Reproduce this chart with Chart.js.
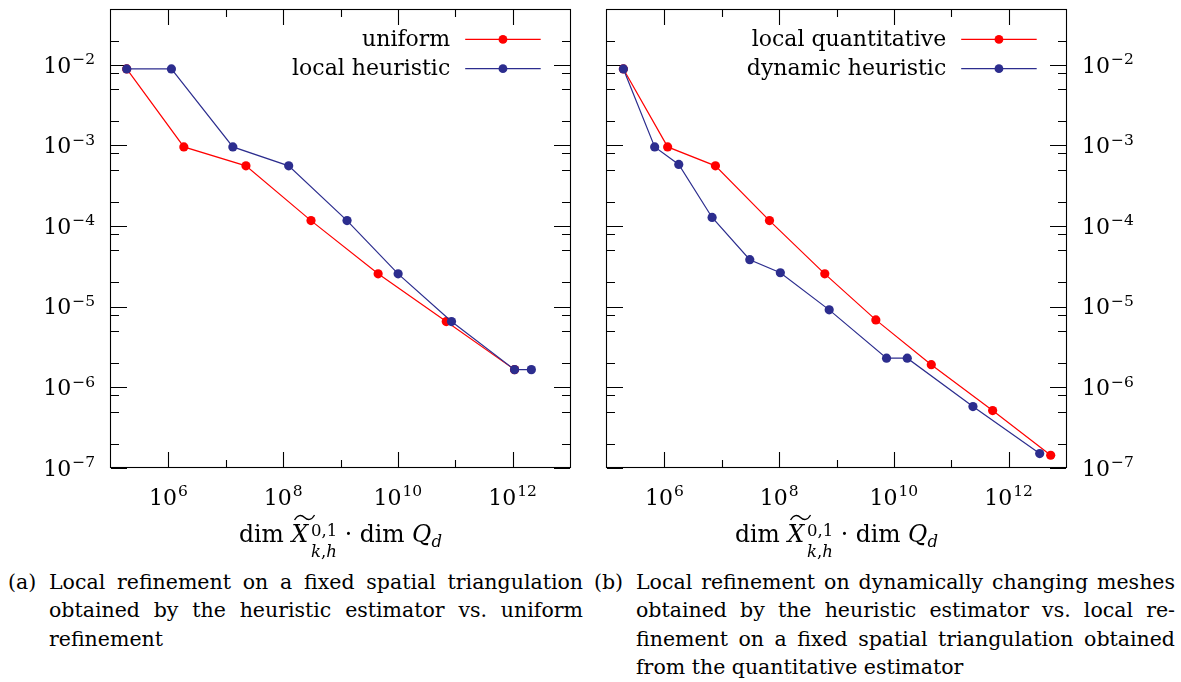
<!DOCTYPE html>
<html>
<head>
<meta charset="utf-8">
<script src="https://cdn.jsdelivr.net/npm/chart.js@4.4.1/dist/chart.umd.min.js"></script>
<style>
    html, body { margin: 0; padding: 0; background: #fff; }
    body {
        width: 1181px; height: 682px; position: relative; overflow: hidden;
        font-family: "DejaVu Serif", "Liberation Serif", serif; color: #000;
    }
    .plot { position: absolute; top: 0; }
    #boxA { left: 0; }
    #boxB { left: 590px; }

    /* titulo del eje x */
    .xt {
        position: absolute; top: 518.5px; font-size: 23.5px; line-height: 30px;
        white-space: nowrap; transform: translateX(-50%);
    }
    .xt i { font-style: italic; }
    .tx { position: relative; font-style: italic; display: inline-block; }
    .tx svg { position: absolute; left: 2px; top: -6px; }
    .stack {
        display: inline-flex; flex-direction: column; font-size: 16.5px;
        line-height: 21px; vertical-align: 6px; margin-left: 3px;
    }
    .sub { font-size: 16.5px; vertical-align: -5px; }

    /* pies de figura */
    .cap { position: absolute; top: 568px; font-size: 20.5px; line-height: 28.3px; }
    #capA { left: 8px; width: 575px; }
    #capB { left: 594px; width: 581px; }
    .cap .lbl { position: absolute; left: 0; top: 0; }
    #capA .lines { margin-left: 41px; }
    #capB .lines { margin-left: 42px; }
    .ln { text-align: justify; text-align-last: justify; }
    .ln.last { text-align-last: left; }
</style>
</head>
<body>

<div class="plot" id="boxA"><canvas id="chartA" width="590" height="520"></canvas></div>
<div class="plot" id="boxB"><canvas id="chartB" width="591" height="520"></canvas></div>

<div class="xt" style="left:340.5px">dim <span class="tx">X<svg width="22" height="9"><path d="M1 7 C4 1.5 8 1.5 11 4.5 S18 7.5 21 2" fill="none" stroke="#000" stroke-width="1.3"/></svg></span><span class="stack"><span>0,1</span><span><i>k</i>,<i>h</i></span></span> · dim <i>Q</i><span class="sub"><i>d</i></span></div>
<div class="xt" style="left:836.5px">dim <span class="tx">X<svg width="22" height="9"><path d="M1 7 C4 1.5 8 1.5 11 4.5 S18 7.5 21 2" fill="none" stroke="#000" stroke-width="1.3"/></svg></span><span class="stack"><span>0,1</span><span><i>k</i>,<i>h</i></span></span> · dim <i>Q</i><span class="sub"><i>d</i></span></div>

<div class="cap" id="capA">
    <span class="lbl">(a)</span>
    <div class="lines">
        <div class="ln">Local refinement on a fixed spatial triangulation</div>
        <div class="ln">obtained by the heuristic estimator vs. uniform</div>
        <div class="ln last">refinement</div>
    </div>
</div>
<div class="cap" id="capB">
    <span class="lbl">(b)</span>
    <div class="lines">
        <div class="ln">Local refinement on dynamically changing meshes</div>
        <div class="ln">obtained by the heuristic estimator vs. local re-</div>
        <div class="ln">finement on a fixed spatial triangulation obtained</div>
        <div class="ln last">from the quantitative estimator</div>
    </div>
</div>

<script>
// ---------------- DATOS ----------------
const X_MIN = 1e5;
const X_MAX = 1e13;
const Y_MIN = 1e-7;
const Y_MAX = 0.0493;

const xMajor = [1e6, 1e8, 1e10, 1e12];
const xMinor = [1e7, 1e9, 1e11];
const yMajor = [1e-7, 1e-6, 1e-5, 1e-4, 1e-3, 1e-2];
const yMinor = [
    2e-7, 5e-7, 8e-7, 2e-6, 5e-6, 8e-6, 2e-5, 5e-5, 8e-5,
    2e-4, 5e-4, 8e-4, 2e-3, 5e-3, 8e-3, 2e-2,
];

// (a) uniform vs local heuristic
const uniformX = [1.88e5, 1.86e6, 2.25e7, 3.06e8, 4.53e9, 6.97e10, 1.08e12];
const uniformY = [8.9e-3, 9.6e-4, 5.59e-4, 1.17e-4, 2.56e-5, 6.55e-6, 1.66e-6];
const heuristicX = [1.88e5, 1.13e6, 1.33e7, 1.25e8, 1.30e9, 1.01e10, 8.61e10, 1.08e12, 2.12e12];
const heuristicY = [8.9e-3, 8.9e-3, 9.6e-4, 5.59e-4, 1.17e-4, 2.56e-5, 6.55e-6, 1.66e-6, 1.66e-6];

// (b) local quantitative vs dynamic heuristic
const quantX = [1.93e5, 1.14e6, 7.76e6, 6.79e7, 6.25e8, 4.85e9, 4.49e10, 5.26e11, 5.41e12];
const quantY = [8.9e-3, 9.6e-4, 5.59e-4, 1.17e-4, 2.56e-5, 6.87e-6, 1.91e-6, 5.16e-7, 1.44e-7];
const dynX = [1.93e5, 6.78e5, 1.78e6, 6.79e6, 3.08e7, 1.05e8, 7.46e8, 7.45e9, 1.71e10, 2.39e11, 3.48e12];
const dynY = [8.9e-3, 9.6e-4, 5.82e-4, 1.28e-4, 3.83e-5, 2.64e-5, 9.15e-6, 2.30e-6, 2.30e-6, 5.78e-7, 1.51e-7];

const ROJO = "#ff0000";
const AZUL = "#2c2d8e";
const FUENTE = '"DejaVu Serif", "Liberation Serif", serif';

function puntos(xs, ys) {
    return xs.map((x, i) => ({ x, y: ys[i] }));
}

// "10" con exponente
function dibujarPotencia(ctx, valor, x, y, align) {
    const exp = Math.round(Math.log10(valor));
    const sup = exp < 0 ? "\u2212" + Math.abs(exp) : String(exp);
    ctx.font = `22px ${FUENTE}`;
    const w1 = ctx.measureText("10").width;
    ctx.font = `15.5px ${FUENTE}`;
    const w2 = ctx.measureText(sup).width;
    const total = w1 + 1 + w2;
    let x0 = x;
    if (align === "center") x0 = x - total / 2;
    if (align === "right") x0 = x - total;
    ctx.textAlign = "left";
    ctx.textBaseline = "alphabetic";
    ctx.font = `22px ${FUENTE}`;
    ctx.fillText("10", x0, y);
    ctx.font = `15.5px ${FUENTE}`;
    ctx.fillText(sup, x0 + w1 + 1, y - 8.5);
}

// ---------------- EJES (marco, ticks hacia dentro, etiquetas) ----------------
const ejesPlugin = {
    id: "ejes",
    beforeDatasetsDraw(chart, args, opts) {
        const ctx = chart.ctx;
        const a = chart.chartArea;
        const sx = chart.scales.x;
        const sy = chart.scales.y;

        ctx.save();
        ctx.strokeStyle = "#000";
        ctx.lineWidth = 1.1;
        ctx.strokeRect(a.left - 0.5, a.top + 0.5, a.right - a.left + 1, a.bottom - a.top - 1);

        ctx.beginPath();
        for (const v of xMajor.concat(xMinor)) {
            const px = Math.round(sx.getPixelForValue(v)) + 0.5;
            const len = xMajor.includes(v) ? 16 : 8;
            ctx.moveTo(px, a.bottom);
            ctx.lineTo(px, a.bottom - len);
            ctx.moveTo(px, a.top);
            ctx.lineTo(px, a.top + len);
        }
        for (const v of yMajor.concat(yMinor)) {
            const py = Math.round(sy.getPixelForValue(v)) + 0.5;
            const len = yMajor.includes(v) ? 16 : 8;
            ctx.moveTo(a.left, py);
            ctx.lineTo(a.left + len, py);
            ctx.moveTo(a.right, py);
            ctx.lineTo(a.right - len, py);
        }
        ctx.stroke();

        ctx.fillStyle = "#000";
        for (const v of xMajor) {
            dibujarPotencia(ctx, v, sx.getPixelForValue(v), a.bottom + 36.5, "center");
        }
        for (const v of yMajor) {
            const py = sy.getPixelForValue(v) + 7.7;
            if (opts.lado === "left") {
                dibujarPotencia(ctx, v, a.left - 16, py, "right");
            } else {
                dibujarPotencia(ctx, v, a.right + 16, py, "left");
            }
        }
        ctx.restore();
    },
    afterDraw(chart) {
        // leyenda arriba a la derecha
        const ctx = chart.ctx;
        const a = chart.chartArea;
        const finLinea = a.right - 29.3;
        const iniLinea = finLinea - 75.5;
        const filas = [a.top + 30.4, a.top + 59.7];

        ctx.save();
        chart.data.datasets.forEach((ds, i) => {
            const y = filas[i];
            ctx.strokeStyle = ds.borderColor;
            ctx.lineWidth = 1.2;
            ctx.beginPath();
            ctx.moveTo(iniLinea, y);
            ctx.lineTo(finLinea, y);
            ctx.stroke();
            ctx.fillStyle = ds.borderColor;
            ctx.beginPath();
            ctx.arc((iniLinea + finLinea) / 2, y, 4.4, 0, Math.PI * 2);
            ctx.fill();

            ctx.fillStyle = "#000";
            ctx.font = `22px ${FUENTE}`;
            ctx.textAlign = "right";
            ctx.textBaseline = "alphabetic";
            ctx.fillText(ds.label, iniLinea - 15, y + 6.3);
        });
        ctx.restore();
    },
};

// ---------------- GRAFICAS ----------------
function crearGrafica(id, serieRoja, serieAzul, lado, padding) {
    const ctx = document.getElementById(id);
    return new Chart(ctx, {
        type: "line",
        data: {
            datasets: [
                {
                    label: serieRoja.label,
                    data: serieRoja.data,
                    borderColor: ROJO,
                    backgroundColor: ROJO,
                    pointBackgroundColor: ROJO,
                    order: 2,
                },
                {
                    label: serieAzul.label,
                    data: serieAzul.data,
                    borderColor: AZUL,
                    backgroundColor: AZUL,
                    pointBackgroundColor: AZUL,
                    order: 1,
                },
            ],
        },
        options: {
            responsive: false,
            animation: false,
            devicePixelRatio: 1,
            layout: { padding },
            elements: {
                line: { borderWidth: 1.2, tension: 0, fill: false },
                point: { radius: 4.6, borderWidth: 0, hoverRadius: 4.6 },
            },
            scales: {
                x: { type: "logarithmic", min: X_MIN, max: X_MAX, bounds: "data", display: false },
                y: { type: "logarithmic", min: Y_MIN, max: Y_MAX, bounds: "data", display: false },
            },
            plugins: {
                legend: { display: false },
                tooltip: { enabled: false },
                ejes: { lado },
            },
        },
        plugins: [ejesPlugin],
    });
}

crearGrafica(
    "chartA",
    { label: "uniform", data: puntos(uniformX, uniformY) },
    { label: "local heuristic", data: puntos(heuristicX, heuristicY) },
    "left",
    { left: 111, top: 9, right: 20, bottom: 52 }
);

crearGrafica(
    "chartB",
    { label: "local quantitative", data: puntos(quantX, quantY) },
    { label: "dynamic heuristic", data: puntos(dynX, dynY) },
    "right",
    { left: 17, top: 9, right: 115, bottom: 52 }
);
</script>
</body>
</html>
